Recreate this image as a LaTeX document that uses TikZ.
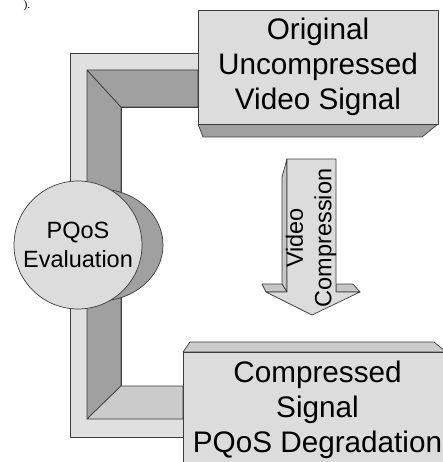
\documentclass[tikz,border=0pt]{standalone}
\usepackage{fontspec}
\setmainfont{Liberation Sans}
\newfontfamily\fragfont{Liberation Serif}
\definecolor{facelight}{HTML}{DCDCDC}
\definecolor{striplight}{HTML}{E0E0E0}
\definecolor{facedark}{HTML}{A0A0A0}
\definecolor{facemid}{HTML}{CBCBCB}
\definecolor{arrowside}{HTML}{C6C6C6}
\definecolor{edgegray}{HTML}{3C3C3C}
\tikzset{
  edge/.style={draw=edgegray, line width=0.7pt, line join=round},
  lightface/.style={edge, fill=facelight},
  stripface/.style={edge, fill=striplight},
  darkface/.style={edge, fill=facedark},
  midface/.style={edge, fill=facemid},
  sideface/.style={edge, fill=arrowside},
  bigtext/.style={align=center, inner sep=0pt, font=\fontsize{29.7}{35.3}\selectfont},
  smalltext/.style={align=center, inner sep=0pt, font=\fontsize{23.5}{28.5}\selectfont}
}
\begin{document}
\begin{tikzpicture}[x=1pt,y=-1pt]
\useasboundingbox (0,0) rectangle (443,462);
\clip (0,0) rectangle (443,462);
\fill[white] (0,0) rectangle (443,462);

% fragment of text at top left
\node[anchor=base, inner sep=0pt, font=\fragfont\fontsize{11.5}{11.5}\selectfont] (frag) at (27,8.6) {).};

% feedback pipe
\path[stripface] (198,53) -- (70,53) -- (70,437) -- (183,437) -- (183,386) -- (121,386) -- (121,107) -- (198,107) -- cycle;
\path[darkface] (87,70) -- (121,107) -- (121,386) -- (87,419) -- cycle;
\path[darkface] (87,70) -- (198,70) -- (198,107) -- (121,107) -- cycle;
\path[midface] (87,419) -- (121,386) -- (183,386) -- (183,419) -- cycle;

% PQoS evaluation cylinder
\path[darkface] (99,245) ellipse [x radius=64, y radius=56];
\node[circle, lightface, minimum size=128pt, inner sep=0pt, smalltext] (eval) at (78,245) {PQoS\\Evaluation};

% top box
\path[darkface] (198,124) -- (438,124) -- (422,137) -- (203,137) -- cycle;
\node[rectangle, lightface, minimum width=240pt, minimum height=114pt, bigtext] (orig) at (318,67) {Original\\Uncompressed\\Video Signal};

% bottom box
\path[midface] (190,342) -- (434,342) -- (446,352) -- (183,352) -- cycle;
\path[lightface] (183,352) rectangle (446,470);
\node[bigtext] (comp) at (317.5,410) {Compressed\\Signal\\PQoS Degradation};

% video compression arrow
\path[sideface] (287,159) -- (282,177) -- (282,284) -- (287,292) -- cycle;
\path[sideface] (282,284) -- (262,284) -- (266,292) -- (287,292) -- cycle;
\path[sideface] (336,284) -- (353,284) -- (360,292) -- (336,292) -- cycle;
\path[lightface] (287,159) -- (336,159) -- (336,292) -- (360,292) -- (312,315) -- (266,292) -- (287,292) -- cycle;
\node[smalltext, rotate=90] (vc) at (311,238) {Video\\Compression};
\end{tikzpicture}
\end{document}
